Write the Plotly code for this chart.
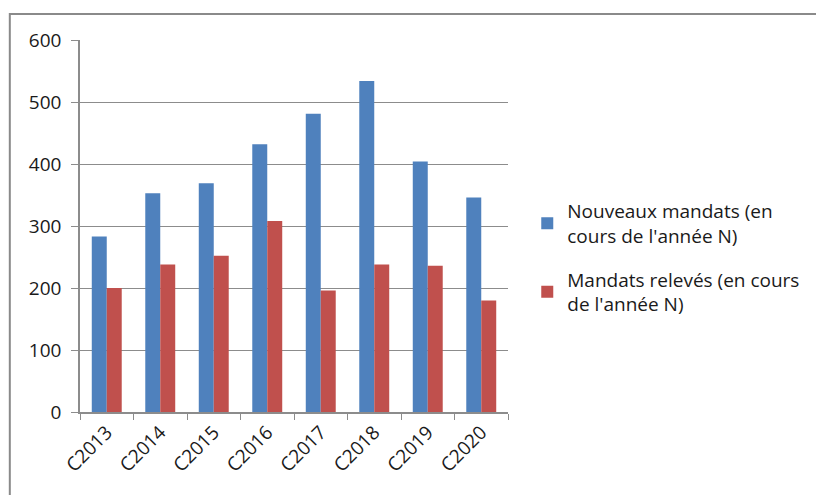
import plotly.graph_objects as go

# Campaign labels and yearly counts
categories = ["C2013", "C2014", "C2015", "C2016", "C2017", "C2018", "C2019", "C2020"]
nouveaux = [283, 353, 369, 432, 481, 534, 404, 346]
releves = [200, 238, 252, 308, 196, 238, 236, 180]
series_names = [
    "Nouveaux mandats (en<br>cours de l'année N)",
    "Mandats relevés (en cours<br>de l'année N)",
]
y_ticks = [0, 100, 200, 300, 400, 500, 600]

BLUE = "#4F81BD"
RED = "#C0504D"
AXIS = "#8C8C8C"
FONT = "Open Sans"
TEXT = "#1a1a1a"

fig = go.Figure()
fig.add_trace(go.Bar(x=categories, y=nouveaux, name=series_names[0],
                     legendgroup="nouveaux",
                     marker=dict(color=BLUE, line=dict(width=0))))
fig.add_trace(go.Bar(x=categories, y=releves, name=series_names[1],
                     legendgroup="releves",
                     marker=dict(color=RED, line=dict(width=0))))

# Outer chart frame, expressed relative to the plotting area
fig.add_shape(type="rect", xref="paper", yref="paper",
              x0=-0.164, x1=1.75, y0=-0.4, y1=1.07,
              line=dict(color="#8A8A8A", width=2), fillcolor="rgba(0,0,0,0)",
              layer="below")

fig.update_layout(
    width=816, height=495,
    margin=dict(l=80, r=308, t=40, b=83, autoexpand=False),
    paper_bgcolor="white", plot_bgcolor="white",
    barmode="group", bargap=0.44, bargroupgap=0,
    font=dict(family=FONT, size=19, color=TEXT),
    showlegend=True,
    legend=dict(x=1.045, y=0.415, xanchor="left", yanchor="middle",
                font=dict(family=FONT, size=19, color=TEXT),
                tracegroupgap=16, bgcolor="rgba(0,0,0,0)"),
    xaxis=dict(type="category", tickangle=-45, showline=True,
               linecolor=AXIS, linewidth=1.5, ticks="outside",
               tickson="boundaries", ticklen=6, tickcolor=AXIS,
               tickfont=dict(family=FONT, size=19, color=TEXT),
               showgrid=False),
    yaxis=dict(range=[0, 600], tickvals=y_ticks, showline=True,
               linecolor=AXIS, linewidth=1.5, ticks="outside", ticklen=7,
               tickcolor=AXIS, showgrid=True, gridcolor=AXIS, gridwidth=1.2,
               zeroline=False, ticklabelstandoff=6,
               tickfont=dict(family=FONT, size=19, color=TEXT)),
)

fig.write_html("out.html")
